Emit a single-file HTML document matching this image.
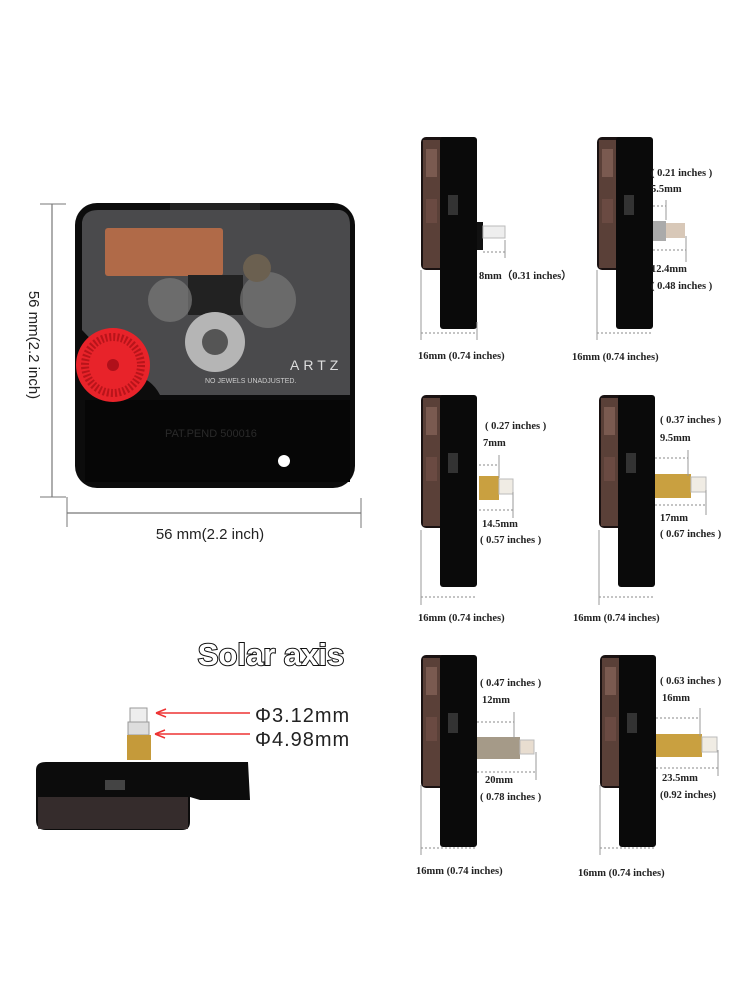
<!DOCTYPE html>
<html><head><meta charset="utf-8"><style>
html,body{margin:0;padding:0;background:#fff;width:750px;height:1000px;overflow:hidden}
svg{display:block}
.t{font-family:"Liberation Serif",serif;font-weight:bold;font-size:10.5px;fill:#222}
.d{stroke:#888;stroke-width:1;stroke-dasharray:2,2;fill:none}
.v{stroke:#999;stroke-width:1;fill:none}
</style></head><body>
<svg width="750" height="1000" viewBox="0 0 750 1000" xmlns="http://www.w3.org/2000/svg">
<defs>
<g id="unit">
  <rect x="0" y="0" width="56" height="133" rx="5" fill="#1a1212"/>
  <rect x="2" y="3" width="18" height="128" fill="#5a4038"/>
  <rect x="5" y="12" width="11" height="28" fill="#7a5a50"/>
  <rect x="5" y="62" width="11" height="24" fill="#6a4a42"/>
  <rect x="19" y="0" width="37" height="133" rx="3" fill="#0a0a0a"/>
  <rect x="27" y="58" width="10" height="20" fill="#333"/>
  <rect x="19" y="120" width="37" height="72" rx="3" fill="#0a0a0a"/>
</g>
</defs>

<!-- Main clock dimensions -->
<line x1="52" y1="204" x2="52" y2="497" stroke="#777" stroke-width="1.2"/>
<line x1="40" y1="204" x2="66" y2="204" stroke="#777"/>
<line x1="40" y1="497" x2="66" y2="497" stroke="#777"/>
<line x1="67" y1="513" x2="361" y2="513" stroke="#777" stroke-width="1.2"/>
<line x1="67" y1="497" x2="67" y2="527" stroke="#777"/>
<line x1="361" y1="498" x2="361" y2="528" stroke="#777"/>
<text x="210" y="539" text-anchor="middle" font-family="Liberation Sans,sans-serif" font-size="15" fill="#222">56 mm(2.2 inch)</text>
<text transform="translate(29,345) rotate(90)" text-anchor="middle" font-family="Liberation Sans,sans-serif" font-size="15" fill="#222">56 mm(2.2 inch)</text>

<!-- Main clock body -->
<rect x="75" y="203" width="280" height="285" rx="22" fill="#0c0c0c"/>
<rect x="170" y="203" width="90" height="12" fill="#222"/>
<path d="M82 222 Q84 210 98 210 L340 210 Q350 212 350 225 L350 395 L160 395 Q150 375 120 370 L82 330 Z" fill="#4a4a4c"/>
<rect x="105" y="228" width="118" height="48" rx="3" fill="#b06a48"/>
<rect x="188" y="275" width="55" height="40" fill="#222"/>
<circle cx="170" cy="300" r="22" fill="#7a7a7a" opacity=".7"/>
<circle cx="268" cy="300" r="28" fill="#777" opacity=".7"/>
<circle cx="257" cy="268" r="14" fill="#6b6050"/>
<circle cx="215" cy="342" r="30" fill="#b5b5b5"/>
<circle cx="215" cy="342" r="13" fill="#555"/>
<text x="290" y="370" font-family="Liberation Sans,sans-serif" font-size="14" fill="#ddd" letter-spacing="4">ARTZ</text>
<text x="205" y="383" font-family="Liberation Sans,sans-serif" font-size="7" fill="#ccc">NO JEWELS UNADJUSTED.</text>
<rect x="85" y="400" width="265" height="82" fill="#060606"/>
<text x="165" y="437" font-family="Liberation Sans,sans-serif" font-size="11" fill="#2a2a2a">PAT.PEND 500016</text>
<circle cx="284" cy="461" r="6" fill="#fff"/>
<circle cx="113" cy="365" r="37" fill="#e8232a"/>
<circle cx="113" cy="365" r="28" fill="none" stroke="#b8141a" stroke-width="8" stroke-dasharray="2,2"/>
<circle cx="113" cy="365" r="6" fill="#b0101a"/>

<!-- Row 1 col 1 -->
<use href="#unit" x="421" y="137"/>
<rect x="477" y="222" width="6" height="28" fill="#111"/>
<rect x="483" y="226" width="22" height="12" fill="#eee" stroke="#bbb"/>
<line x1="483" y1="252" x2="505" y2="252" class="d"/><line x1="505" y1="240" x2="505" y2="258" class="v"/>
<text class="t" x="479" y="279">8mm（0.31 inches）</text>
<line x1="421" y1="333" x2="477" y2="333" class="d"/><line x1="421" y1="270" x2="421" y2="340" class="v"/><line x1="477" y1="322" x2="477" y2="340" class="v"/>
<text class="t" x="418" y="359">16mm (0.74 inches)</text>

<!-- Row 1 col 2 -->
<use href="#unit" x="597" y="137"/>
<rect x="653" y="221" width="13" height="20" fill="#aaa"/><rect x="666" y="223" width="19" height="15" fill="#d8c8b8"/>
<line x1="653" y1="206" x2="666" y2="206" class="d"/><line x1="666" y1="200" x2="666" y2="220" class="v"/>
<line x1="653" y1="250" x2="686" y2="250" class="d"/><line x1="686" y1="236" x2="686" y2="262" class="v"/>
<text class="t" x="651" y="176">( 0.21 inches )</text>
<text class="t" x="651" y="192">5.5mm</text>
<text class="t" x="651" y="272">12.4mm</text>
<text class="t" x="651" y="289">( 0.48 inches )</text>
<line x1="597" y1="333" x2="653" y2="333" class="d"/><line x1="597" y1="270" x2="597" y2="340" class="v"/>
<text class="t" x="572" y="360">16mm (0.74 inches)</text>

<!-- Row 2 col 1 -->
<use href="#unit" x="421" y="395"/>
<rect x="479" y="476" width="20" height="24" fill="#c9a040"/><rect x="499" y="479" width="14" height="15" fill="#f0ece4" stroke="#bbb"/>
<line x1="479" y1="465" x2="499" y2="465" class="d"/><line x1="499" y1="455" x2="499" y2="478" class="v"/>
<line x1="479" y1="510" x2="513" y2="510" class="d"/><line x1="513" y1="492" x2="513" y2="518" class="v"/>
<text class="t" x="485" y="429">( 0.27 inches )</text>
<text class="t" x="483" y="446">7mm</text>
<text class="t" x="482" y="527">14.5mm</text>
<text class="t" x="480" y="543">( 0.57 inches )</text>
<line x1="421" y1="597" x2="477" y2="597" class="d"/><line x1="421" y1="530" x2="421" y2="605" class="v"/>
<text class="t" x="418" y="621">16mm (0.74 inches)</text>

<!-- Row 2 col 2 -->
<use href="#unit" x="599" y="395"/>
<rect x="655" y="474" width="36" height="24" fill="#c9a040"/><rect x="691" y="477" width="15" height="15" fill="#f0ece4" stroke="#bbb"/>
<line x1="655" y1="458" x2="688" y2="458" class="d"/><line x1="688" y1="450" x2="688" y2="476" class="v"/>
<line x1="655" y1="505" x2="706" y2="505" class="d"/><line x1="706" y1="490" x2="706" y2="515" class="v"/>
<text class="t" x="660" y="423">( 0.37 inches )</text>
<text class="t" x="660" y="441">9.5mm</text>
<text class="t" x="660" y="521">17mm</text>
<text class="t" x="660" y="537">( 0.67 inches )</text>
<line x1="599" y1="597" x2="655" y2="597" class="d"/><line x1="599" y1="530" x2="599" y2="605" class="v"/>
<text class="t" x="573" y="621">16mm (0.74 inches)</text>

<!-- Row 3 col 1 -->
<use href="#unit" x="421" y="655"/>
<rect x="477" y="737" width="43" height="22" fill="#a59a88"/><rect x="520" y="740" width="14" height="14" fill="#e8ddd0" stroke="#bbb"/>
<line x1="477" y1="722" x2="514" y2="722" class="d"/><line x1="514" y1="712" x2="514" y2="738" class="v"/>
<line x1="477" y1="772" x2="536" y2="772" class="d"/><line x1="536" y1="752" x2="536" y2="780" class="v"/>
<text class="t" x="480" y="686">( 0.47 inches )</text>
<text class="t" x="482" y="703">12mm</text>
<text class="t" x="485" y="783">20mm</text>
<text class="t" x="480" y="800">( 0.78 inches )</text>
<line x1="421" y1="848" x2="477" y2="848" class="d"/><line x1="421" y1="785" x2="421" y2="855" class="v"/>
<text class="t" x="416" y="874">16mm (0.74 inches)</text>

<!-- Row 3 col 2 -->
<use href="#unit" x="600" y="655"/>
<rect x="656" y="734" width="46" height="23" fill="#c9a040"/><rect x="702" y="737" width="15" height="15" fill="#f0ece4" stroke="#bbb"/>
<line x1="656" y1="718" x2="700" y2="718" class="d"/><line x1="700" y1="708" x2="700" y2="736" class="v"/>
<line x1="656" y1="768" x2="718" y2="768" class="d"/><line x1="718" y1="750" x2="718" y2="776" class="v"/>
<text class="t" x="660" y="684">( 0.63 inches )</text>
<text class="t" x="662" y="701">16mm</text>
<text class="t" x="662" y="781">23.5mm</text>
<text class="t" x="660" y="798">(0.92 inches)</text>
<line x1="600" y1="848" x2="656" y2="848" class="d"/><line x1="600" y1="785" x2="600" y2="855" class="v"/>
<text class="t" x="578" y="876">16mm (0.74 inches)</text>

<!-- Solar axis -->
<text x="271" y="665" text-anchor="middle" font-family="Liberation Sans,sans-serif" font-weight="bold" font-size="31" fill="#fff" stroke="#111" stroke-width="2" paint-order="stroke">Solar axis</text>
<rect x="130" y="708" width="17" height="15" fill="#eee" stroke="#999"/>
<rect x="128" y="722" width="21" height="13" fill="#ddd" stroke="#999"/>
<rect x="127" y="735" width="24" height="25" fill="#c59a3a"/>
<path d="M36 770 Q36 762 46 762 L248 762 L250 800 L200 800 L190 797 L190 822 Q190 830 182 830 L46 830 Q36 830 36 820 Z" fill="#0c0c0c"/>
<rect x="38" y="797" width="150" height="32" fill="#3a3030" opacity=".9"/>
<rect x="105" y="780" width="20" height="10" fill="#444"/>
<line x1="250" y1="713" x2="158" y2="713" stroke="#e33" stroke-width="1.5"/>
<path d="M156 713 L166 709 M156 713 L166 717" stroke="#e33" stroke-width="1.5"/>
<line x1="250" y1="734" x2="157" y2="734" stroke="#e33" stroke-width="1.5"/>
<path d="M155 734 L165 730 M155 734 L165 738" stroke="#e33" stroke-width="1.5"/>
<text x="255" y="722" font-family="Liberation Sans,DejaVu Sans,sans-serif" font-size="20" fill="#222" letter-spacing="1">Φ3.12mm</text>
<text x="255" y="746" font-family="Liberation Sans,DejaVu Sans,sans-serif" font-size="20" fill="#222" letter-spacing="1">Φ4.98mm</text>
</svg>
</body></html>
